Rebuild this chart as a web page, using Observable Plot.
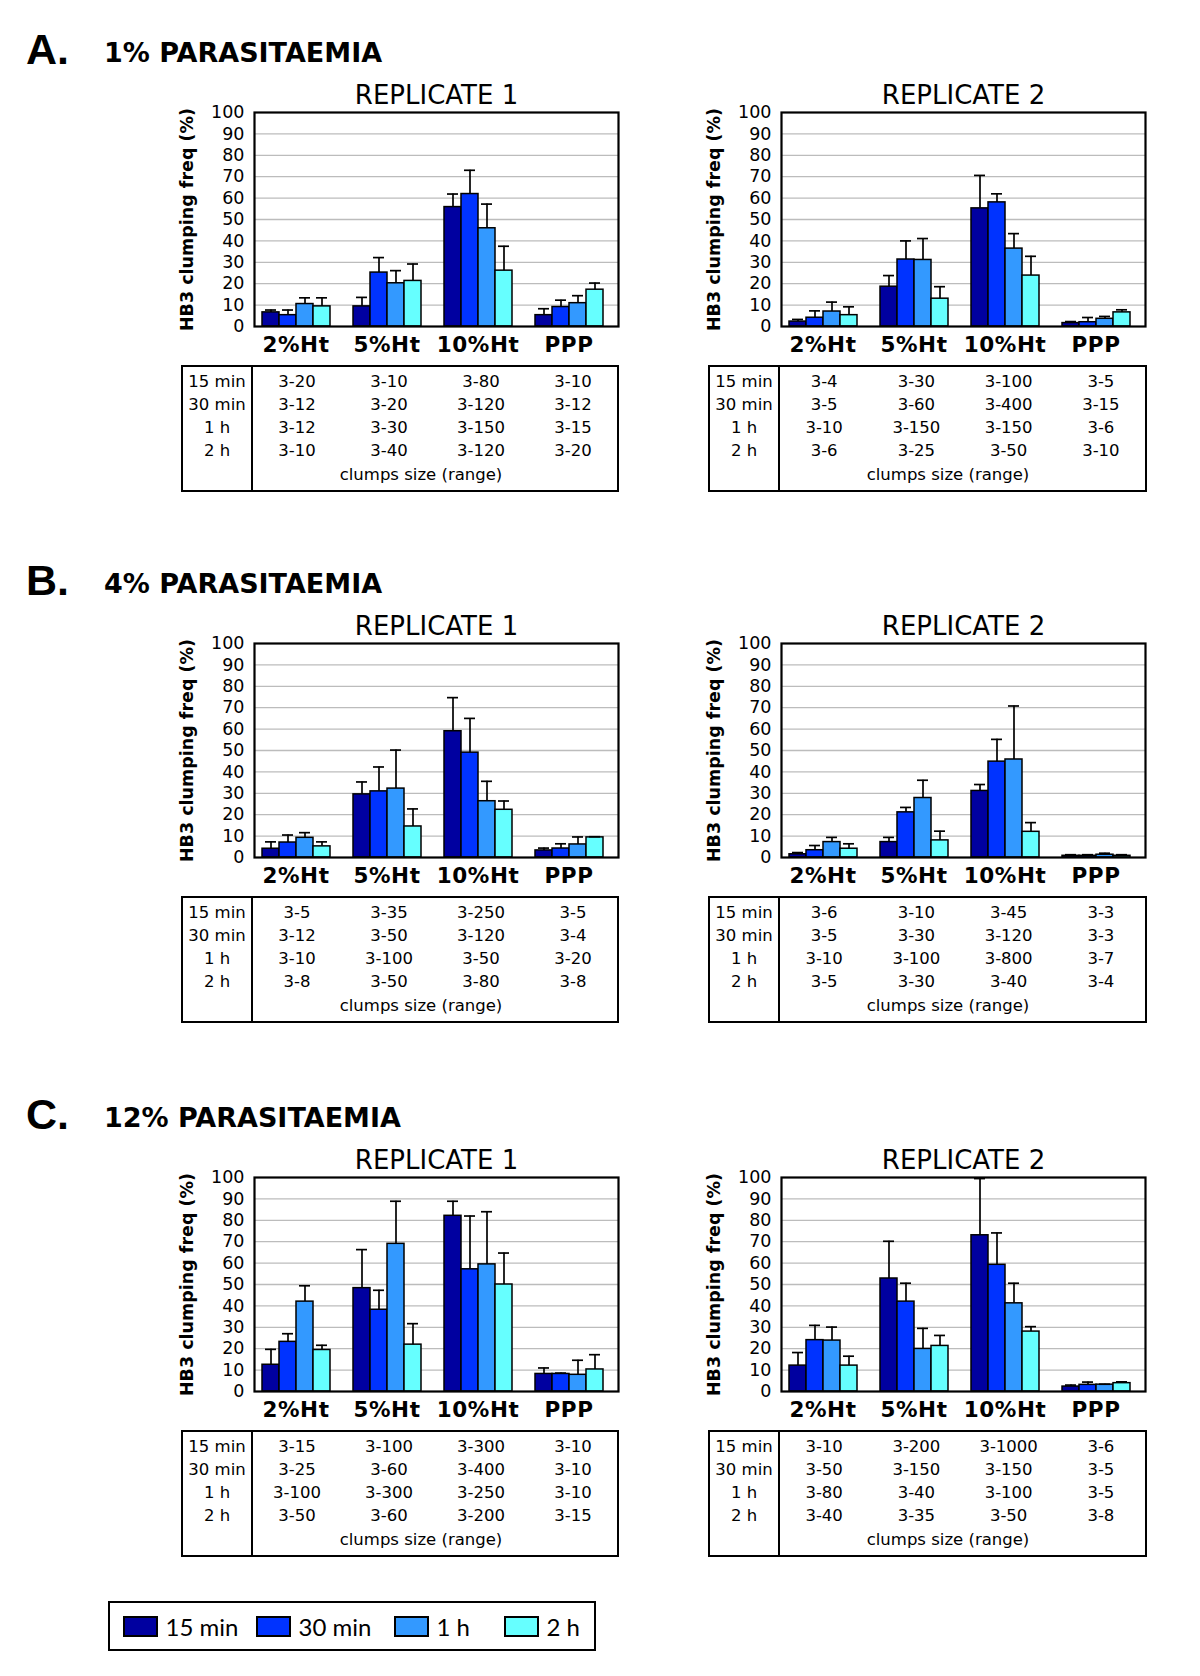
<!DOCTYPE html>
<html><head><meta charset="utf-8">
<script src="https://cdn.jsdelivr.net/npm/d3@7"></script>
<script src="https://cdn.jsdelivr.net/npm/@observablehq/plot@0.6"></script>
<style>
html,body{margin:0;padding:0;background:#fff;}
#page{position:relative;width:1200px;height:1676px;background:#fff;overflow:hidden;font-family:"DejaVu Sans",Verdana,sans-serif;color:#000}
.sec-letter{position:absolute;font-family:"Liberation Sans",Arial,sans-serif;font-weight:bold;font-size:43px;line-height:normal;white-space:nowrap}
.sec-title{position:absolute;font-family:"DejaVu Sans",Verdana,sans-serif;font-weight:bold;font-size:27px;line-height:normal;white-space:nowrap}
.chart{position:absolute}
.chart svg{overflow:visible}
.chart [aria-label="y-axis label"]{font-weight:bold;font-size:17.5px}
.chart [aria-label="y-axis tick label"]{font-size:17.5px}
.chart [aria-label="fx-axis tick label"]{font-weight:bold;font-size:21.5px;letter-spacing:0.6px}
.tbl{position:absolute;border:2px solid #000;box-sizing:border-box;font-size:16.5px;height:127px}
.tbl .lab{position:absolute;left:0;top:0;bottom:0;width:70px;border-right:2px solid #000;text-align:center;padding-top:2.5px;box-sizing:border-box}
.tbl .lab div,.tbl .cells div,.tbl .foot{height:23.3px;line-height:23.3px;white-space:nowrap}
.tbl .cells{position:absolute;left:68px;top:2.5px;display:grid;text-align:center}
.tbl .foot{position:absolute;left:68px;top:96px;text-align:center}
#legend{position:absolute;left:108px;top:1601px;width:488px;height:50px;border:2px solid #000;box-sizing:border-box;display:flex;align-items:center;padding-left:13px;font-family:Lato,"Open Sans",sans-serif;font-size:24px}
#legend .item{display:flex;align-items:center;flex:none}
#legend .sw{width:35px;height:21px;border:2px solid #000;box-sizing:border-box;margin-right:7.5px}
</style>
</head><body><div id="page"></div>
<script>
// ---------- data ----------
const groups = ["2%Ht", "5%Ht", "10%Ht", "PPP"];
const times = ["15 min", "30 min", "1 h", "2 h"];
const colors = ["#0000A0", "#0033FF", "#3399FF", "#66FFFF"];
const sectionLetters = ["A.", "B.", "C."];
const sectionTitles = ["1% PARASITAEMIA", "4% PARASITAEMIA", "12% PARASITAEMIA"];
const replicateTitles = ["REPLICATE 1", "REPLICATE 2"];
const yLabel = "HB3 clumping freq (%)";
const tableFoot = "clumps size (range)";
const yTicks = [0, 10, 20, 30, 40, 50, 60, 70, 80, 90, 100];
const gridTicks = [10, 20, 30, 40, 50, 60, 70, 80, 90];

// rows = groups, columns = times
const A1_mean = [[6.6, 5.3, 10.5, 9.4], [9.4, 25.2, 20.2, 21.3], [55.8, 61.9, 45.9, 26.1], [5.3, 9.1, 10.9, 17.2]];
const A1_err  = [[7.7, 7.7, 13.4, 13.4], [13.6, 32.2, 26.1, 29.2], [61.9, 73.0, 57.2, 37.5], [8.3, 12.3, 14.4, 20.3]];
const A2_mean = [[2.3, 4.1, 7.0, 5.3], [18.6, 31.3, 31.1, 13.0], [55.2, 58.0, 36.4, 23.8], [1.6, 2.0, 3.6, 6.6]];
const A2_err  = [[3.3, 7.3, 11.4, 9.2], [23.8, 40.0, 41.1, 18.6], [70.6, 62.0, 43.4, 32.8], [2.3, 4.2, 4.7, 7.8]];
const B1_mean = [[4.1, 7.0, 9.2, 5.2], [29.5, 30.9, 32.2, 14.5], [59.0, 49.0, 26.3, 22.3], [3.3, 4.2, 6.1, 9.4]];
const B1_err  = [[7.3, 10.5, 11.6, 7.3], [35.3, 42.3, 50.2, 22.7], [74.7, 65.0, 35.6, 26.4], [4.4, 6.4, 9.6, 9.7]];
const B2_mean = [[1.5, 3.4, 7.2, 4.1], [7.2, 21.1, 27.8, 8.0], [31.1, 44.8, 45.8, 12.0], [0.8, 0.8, 1.3, 0.8]];
const B2_err  = [[2.3, 5.6, 9.4, 6.4], [9.4, 23.4, 36.1, 12.3], [34.1, 55.2, 70.8, 16.3], [1.3, 1.3, 2.0, 1.3]];
const C1_mean = [[12.5, 23.2, 42.0, 19.4], [48.3, 38.2, 69.0, 21.9], [82.1, 57.1, 59.4, 50.0], [8.2, 8.2, 7.8, 10.3]];
const C1_err  = [[19.7, 27.0, 49.4, 21.6], [66.3, 47.3, 88.9, 31.7], [88.9, 82.0, 84.0, 64.7], [11.0, 8.6, 14.6, 17.2]];
const C2_mean = [[12.1, 24.0, 23.8, 12.1], [52.8, 42.0, 19.9, 21.3], [73.0, 59.2, 41.2, 28.0], [2.3, 3.1, 3.2, 3.9]];
const C2_err  = [[18.2, 30.9, 30.1, 16.5], [70.2, 50.6, 29.5, 26.2], [99.5, 74.1, 50.6, 30.3], [3.0, 4.4, 3.4, 4.5]];

// clump size ranges: rows = times, columns = groups
const A1_ranges = [["3-20", "3-10", "3-80", "3-10"], ["3-12", "3-20", "3-120", "3-12"], ["3-12", "3-30", "3-150", "3-15"], ["3-10", "3-40", "3-120", "3-20"]];
const A2_ranges = [["3-4", "3-30", "3-100", "3-5"], ["3-5", "3-60", "3-400", "3-15"], ["3-10", "3-150", "3-150", "3-6"], ["3-6", "3-25", "3-50", "3-10"]];
const B1_ranges = [["3-5", "3-35", "3-250", "3-5"], ["3-12", "3-50", "3-120", "3-4"], ["3-10", "3-100", "3-50", "3-20"], ["3-8", "3-50", "3-80", "3-8"]];
const B2_ranges = [["3-6", "3-10", "3-45", "3-3"], ["3-5", "3-30", "3-120", "3-3"], ["3-10", "3-100", "3-800", "3-7"], ["3-5", "3-30", "3-40", "3-4"]];
const C1_ranges = [["3-15", "3-100", "3-300", "3-10"], ["3-25", "3-60", "3-400", "3-10"], ["3-100", "3-300", "3-250", "3-10"], ["3-50", "3-60", "3-200", "3-15"]];
const C2_ranges = [["3-10", "3-200", "3-1000", "3-6"], ["3-50", "3-150", "3-150", "3-5"], ["3-80", "3-40", "3-100", "3-5"], ["3-40", "3-35", "3-50", "3-8"]];

const panels = [
  {sec: 0, col: 0, mean: A1_mean, err: A1_err, ranges: A1_ranges},
  {sec: 0, col: 1, mean: A2_mean, err: A2_err, ranges: A2_ranges},
  {sec: 1, col: 0, mean: B1_mean, err: B1_err, ranges: B1_ranges},
  {sec: 1, col: 1, mean: B2_mean, err: B2_err, ranges: B2_ranges},
  {sec: 2, col: 0, mean: C1_mean, err: C1_err, ranges: C1_ranges},
  {sec: 2, col: 1, mean: C2_mean, err: C2_err, ranges: C2_ranges}
];

// ---------- layout ----------
const secOffset = [0, 531, 1065];
const colPlot = [[253, 618], [780, 1146]];
const plotTop0 = 112, plotH = 214;
const mL = 84, mR = 4, mT = 40, mB = 32;
const legendItemWidths = [133, 138, 110, null];

const page = document.getElementById("page");

sectionLetters.forEach((L, i) => {
  const a = document.createElement("div");
  a.className = "sec-letter"; a.textContent = L;
  a.style.left = "26px"; a.style.top = (64 + secOffset[i] - 0.905 * 43) + "px";
  page.appendChild(a);
  const t = document.createElement("div");
  t.className = "sec-title"; t.textContent = sectionTitles[i];
  t.style.left = "104px"; t.style.top = (62 + secOffset[i] - 0.928 * 27) + "px";
  page.appendChild(t);
});

function toRows(mean, err) {
  const out = [];
  groups.forEach((g, gi) => times.forEach((t, ti) => out.push({group: g, time: t, value: mean[gi][ti], err: err[gi][ti]})));
  return out;
}

panels.forEach(p => {
  const [pl, pr] = colPlot[p.col];
  const plotW = pr - pl;
  const top = plotTop0 + secOffset[p.sec];
  const data = toRows(p.mean, p.err);
  const chart = Plot.plot({
    width: plotW + mL + mR,
    height: mT + plotH + mB,
    marginLeft: mL, marginRight: mR, marginTop: mT, marginBottom: mB,
    style: {fontFamily: "DejaVu Sans, Verdana, sans-serif", fontSize: "17px", color: "black", background: "transparent"},
    fx: {domain: groups, paddingInner: 0, paddingOuter: 0, label: null},
    x: {domain: times, paddingInner: 0, paddingOuter: 0.62, align: 0.33, axis: null},
    y: {domain: [0, 100]},
    color: {domain: times, range: colors},
    marks: [
      Plot.ruleY(gridTicks, {stroke: "#bcbcbc", strokeWidth: 1.3}),
      Plot.barY(data, {fx: "group", x: "time", y: "value", fill: "time", stroke: "black", strokeWidth: 1.5}),
      Plot.ruleX(data, {fx: "group", x: "time", y1: "value", y2: "err", stroke: "black", strokeWidth: 1.7}),
      Plot.tickY(data, {fx: "group", x: "time", y: "err", stroke: "black", strokeWidth: 1.7, insetLeft: 3, insetRight: 3}),
      Plot.frame({facet: "super", stroke: "black", strokeWidth: 2.2}),
      Plot.axisY({ticks: yTicks, tickSize: 0, tickPadding: 10, label: yLabel, labelAnchor: "center", labelOffset: 74, labelArrow: false}),
      Plot.axisFx({anchor: "bottom", tickSize: 0, tickPadding: 10, label: null, dx: -4}),
      Plot.text([replicateTitles[p.col]], {facet: "super", frameAnchor: "top", lineAnchor: "bottom", dy: -8.5, fontSize: 26, text: d => d})
    ]
  });
  const wrap = document.createElement("div");
  wrap.className = "chart";
  wrap.style.left = (pl - mL) + "px";
  wrap.style.top = (top - mT) + "px";
  wrap.appendChild(chart);
  page.appendChild(wrap);

  // table of clump sizes
  const tbl = document.createElement("div");
  tbl.className = "tbl";
  tbl.style.left = (pl - 72) + "px";
  tbl.style.top = (365 + secOffset[p.sec]) + "px";
  tbl.style.width = (plotW + 73) + "px";
  const lab = document.createElement("div"); lab.className = "lab";
  times.forEach(t => { const d = document.createElement("div"); d.textContent = t; lab.appendChild(d); });
  tbl.appendChild(lab);
  const cells = document.createElement("div"); cells.className = "cells";
  cells.style.width = (plotW + 3) + "px";
  cells.style.gridTemplateColumns = "repeat(" + groups.length + ", 1fr)";
  p.ranges.forEach(r => r.forEach(v => { const d = document.createElement("div"); d.textContent = v; cells.appendChild(d); }));
  tbl.appendChild(cells);
  const foot = document.createElement("div"); foot.className = "foot";
  foot.style.width = "340px";
  foot.textContent = tableFoot;
  tbl.appendChild(foot);
  page.appendChild(tbl);
});

// legend
const leg = document.createElement("div"); leg.id = "legend";
times.forEach((t, i) => {
  const it = document.createElement("div"); it.className = "item";
  if (legendItemWidths[i]) it.style.width = legendItemWidths[i] + "px";
  const sw = document.createElement("div"); sw.className = "sw"; sw.style.background = colors[i];
  const tx = document.createElement("span"); tx.textContent = t;
  it.appendChild(sw); it.appendChild(tx); leg.appendChild(it);
});
page.appendChild(leg);
</script>
</body></html>
